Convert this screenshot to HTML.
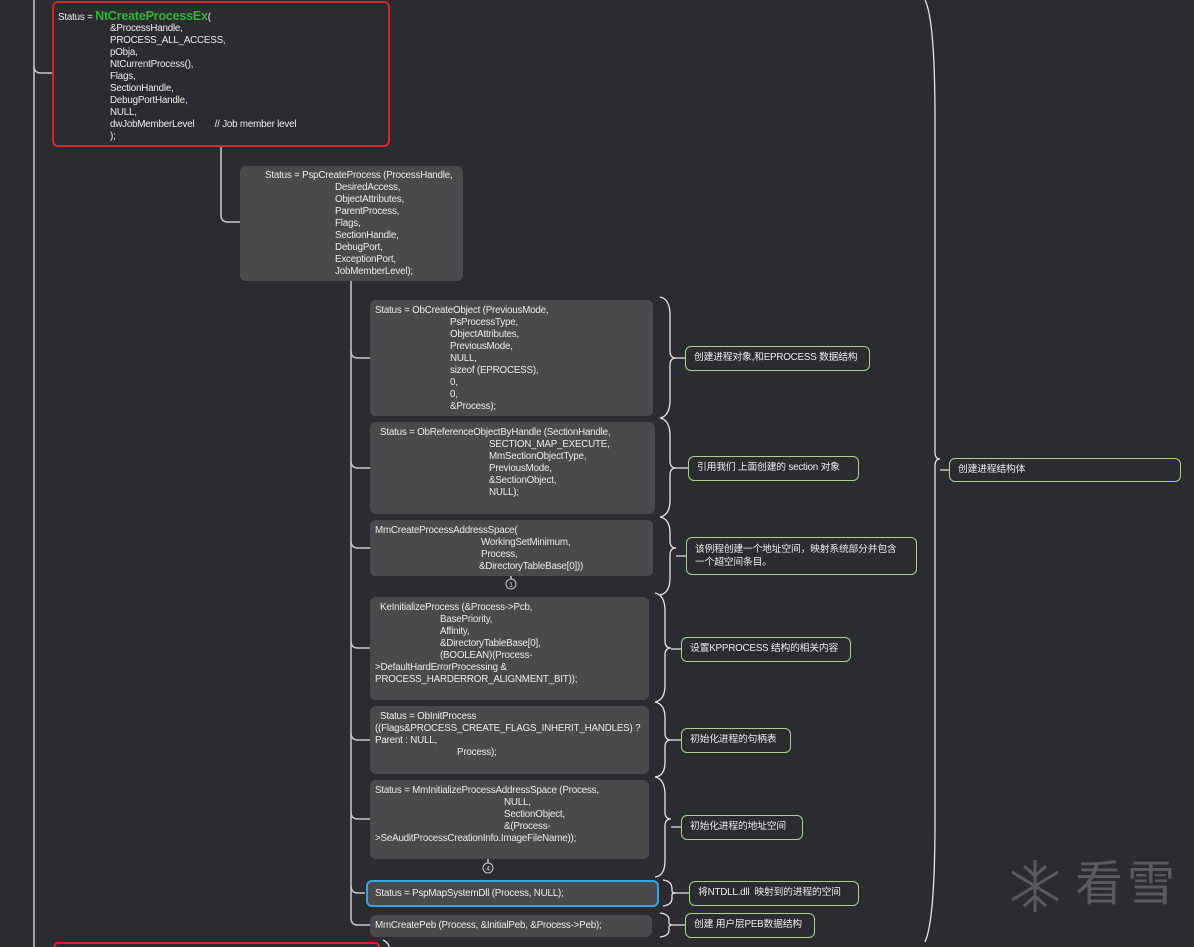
<!DOCTYPE html>
<html style="overflow:hidden;height:947px"><head><meta charset="utf-8"><style>
body{margin:0;width:1194px;height:947px;background:#2b2c30;overflow:hidden;position:relative;font-family:"Liberation Sans","Noto Sans CJK SC",sans-serif;font-size:9.8px;color:#ececec;letter-spacing:-0.2px}
.b{position:absolute;box-sizing:border-box;background:#4a4a4c;border-radius:6px}
.t{position:absolute;white-space:pre;line-height:12px}
.l{position:absolute;box-sizing:border-box;border:1.5px solid #a9d18e;border-radius:6px;padding:0 0 0 8px;font-size:9.8px;line-height:22px;white-space:pre}
svg{position:absolute;left:0;top:0}
</style></head><body>
<svg width="1194" height="947">
<g fill="none" stroke="#c8c8c8" stroke-width="1.5">
<path d="M34 0V947"/><path d="M34 66Q34 73 41 73H52"/>
<path d="M221 146V215Q221 222 228 222H240"/>
<path d="M351 281V918Q351 925 358 925H370"/>
<path d="M351 351Q351 358 358 358H370"/>
<path d="M351 461Q351 468 358 468H370"/>
<path d="M351 541Q351 548 358 548H370"/>
<path d="M351 641Q351 648 358 648H370"/>
<path d="M351 733Q351 740 358 740H370"/>
<path d="M351 812Q351 819 358 819H370"/>
<path d="M351 886Q351 893 358 893H365"/>
<path d="M511 576V579"/><circle cx="511" cy="584" r="5" stroke-width="1"/>
<path d="M488 859V863"/><circle cx="488" cy="868" r="5" stroke-width="1"/>
</g>
<text x="511" y="587" font-size="7" fill="#ccc" text-anchor="middle" font-family="Liberation Sans">1</text>
<text x="488" y="871" font-size="7" fill="#ccc" text-anchor="middle" font-family="Liberation Sans">4</text>
<g fill="none" stroke="#e6e6e6" stroke-width="1.3">
<path d="M660 297Q670 299 670 315V351Q670 358 676 358Q670 358 670 365V400Q670 416 660 418"/>
<path d="M660 418Q670 420 670 436V461Q670 468 676 468Q670 468 670 475V500Q670 515 660 517"/>
<path d="M660 517Q670 519 670 533V541Q670 548 676 548Q670 548 670 555V578Q670 593 660 595"/>
<path d="M655 593Q665 595 665 611V641Q665 648 671 648Q665 648 665 655V685Q665 700 655 702"/>
<path d="M655 702Q665 704 665 718V733Q665 740 671 740Q665 740 665 747V762Q665 776 655 777"/>
<path d="M655 777Q665 779 665 795V812Q665 819 671 819Q665 819 665 826V860Q665 876 655 877"/>
<path d="M663 880Q672 881 672 889V891Q672 893 676 893Q672 893 672 895V898Q672 905 663 906"/>
<path d="M660 913Q669 914 669 920V923Q669 925 673 925Q669 925 669 927V930Q669 936 660 937"/>
<path d="M925 0Q935 20 935 120V452Q935 459 940 459Q935 459 935 466V820Q935 920 925 942"/>
<path d="M383 940Q389 943 389 947"/>
</g>
<g stroke="#e6e6e6" stroke-width="1.3">
<path d="M676 358H685M676 468H688M676 556H686M671 649H681M671 740H681M671 827H681M676 893H689M673 925H685M940 470H949"/>
</g>
<g fill="none" stroke="#5a5a5c" stroke-width="3">
<path d="M1035 860V912M1012 872L1058 900M1012 900L1058 872M1024 866L1035 876L1046 866M1024 906L1035 896L1046 906"/>
</g>
</svg>
<div style="position:absolute;left:1075px;top:855px;font-size:48px;color:#5a5a5c;letter-spacing:4px;line-height:60px">看雪</div>

<div class="b" style="left:52px;top:1px;width:338px;height:146px;background:#2b2c30;border:2px solid #d7262b"></div>
<div class="t" style="left:58px;top:10px">Status = <span style="color:#2eb82e;font-size:12.5px;font-weight:bold">NtCreateProcessEx</span>(</div>
<div class="t" style="left:110px;top:23px">&amp;ProcessHandle,
PROCESS_ALL_ACCESS,
pObja,
NtCurrentProcess(),
Flags,
SectionHandle,
DebugPortHandle,
NULL,
dwJobMemberLevel        // Job member level
);</div>

<div class="b" style="left:240px;top:166px;width:223px;height:115px"></div>
<div class="t" style="left:265px;top:170px">Status = PspCreateProcess (ProcessHandle,</div>
<div class="t" style="left:335px;top:182px">DesiredAccess,
ObjectAttributes,
ParentProcess,
Flags,
SectionHandle,
DebugPort,
ExceptionPort,
JobMemberLevel);</div>

<div class="b" style="left:370px;top:300px;width:283px;height:116px"></div>
<div class="t" style="left:375px;top:305px">Status = ObCreateObject (PreviousMode,</div>
<div class="t" style="left:450px;top:317px">PsProcessType,
ObjectAttributes,
PreviousMode,
NULL,
sizeof (EPROCESS),
0,
0,
&amp;Process);</div>

<div class="b" style="left:370px;top:422px;width:285px;height:92px"></div>
<div class="t" style="left:380px;top:427px">Status = ObReferenceObjectByHandle (SectionHandle,</div>
<div class="t" style="left:489px;top:439px">SECTION_MAP_EXECUTE,
MmSectionObjectType,
PreviousMode,
&amp;SectionObject,
NULL);</div>

<div class="b" style="left:370px;top:520px;width:283px;height:56px"></div>
<div class="t" style="left:375px;top:525px">MmCreateProcessAddressSpace(</div>
<div class="t" style="left:481px;top:537px">WorkingSetMinimum,
Process,</div>
<div class="t" style="left:479px;top:561px">&amp;DirectoryTableBase[0]))</div>

<div class="b" style="left:370px;top:597px;width:279px;height:103px"></div>
<div class="t" style="left:380px;top:602px">KeInitializeProcess (&amp;Process-&gt;Pcb,</div>
<div class="t" style="left:440px;top:614px">BasePriority,
Affinity,
&amp;DirectoryTableBase[0],
(BOOLEAN)(Process-</div>
<div class="t" style="left:375px;top:662px">&gt;DefaultHardErrorProcessing &amp;
PROCESS_HARDERROR_ALIGNMENT_BIT));</div>

<div class="b" style="left:370px;top:706px;width:279px;height:68px"></div>
<div class="t" style="left:375px;top:711px">  Status = ObInitProcess
((Flags&amp;PROCESS_CREATE_FLAGS_INHERIT_HANDLES) ?
Parent : NULL,</div>
<div class="t" style="left:457px;top:747px">Process);</div>

<div class="b" style="left:370px;top:780px;width:279px;height:79px"></div>
<div class="t" style="left:375px;top:785px">Status = MmInitializeProcessAddressSpace (Process,</div>
<div class="t" style="left:504px;top:797px">NULL,
SectionObject,
&amp;(Process-</div>
<div class="t" style="left:375px;top:833px">&gt;SeAuditProcessCreationInfo.ImageFileName));</div>

<div class="b" style="left:366px;top:880px;width:293px;height:27px;border:2px solid #2ea8e6"></div>
<div class="t" style="left:375px;top:888px">Status = PspMapSystemDll (Process, NULL);</div>

<div class="b" style="left:370px;top:915px;width:282px;height:22px"></div>
<div class="t" style="left:375px;top:920px">MmCreatePeb (Process, &amp;InitialPeb, &amp;Process-&gt;Peb);</div>

<div class="l" style="left:685px;top:346px;width:185px;height:25px">创建进程对象,和EPROCESS 数据结构</div>
<div class="l" style="left:688px;top:456px;width:171px;height:25px">引用我们 上面创建的 section 对象</div>
<div class="l" style="left:686px;top:537px;width:231px;height:38px;line-height:13px;padding-top:5px">该例程创建一个地址空间，映射系统部分并包含
一个超空间条目。</div>
<div class="l" style="left:681px;top:637px;width:170px;height:25px">设置KPPROCESS 结构的相关内容</div>
<div class="l" style="left:681px;top:728px;width:110px;height:25px">初始化进程的句柄表</div>
<div class="l" style="left:681px;top:815px;width:122px;height:25px">初始化进程的地址空间</div>
<div class="l" style="left:689px;top:881px;width:170px;height:25px">将NTDLL.dll  映射到的进程的空间</div>
<div class="l" style="left:685px;top:913px;width:130px;height:25px">创建 用户层PEB数据结构</div>
<div class="l" style="left:949px;top:458px;width:232px;height:24px;line-height:22px">创建进程结构体</div>

<div class="b" style="left:53px;top:942px;width:327px;height:5px;border:2px solid #d7262b;border-bottom:none;border-radius:6px 6px 0 0;background:#2b2c30"></div>
</body></html>
